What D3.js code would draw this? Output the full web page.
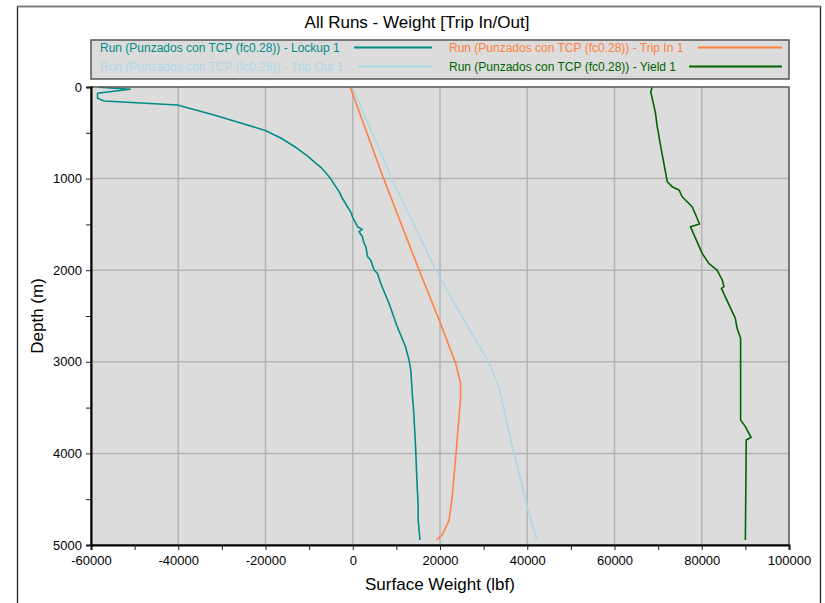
<!DOCTYPE html>
<html>
<head>
<meta charset="utf-8">
<script src="https://cdn.jsdelivr.net/npm/d3@7"></script>
<style>
  html, body { margin: 0; padding: 0; background: #fff; }
  svg { display: block; font-family: "Liberation Sans", Arial, sans-serif; }
</style>
</head>
<body>
<div id="chart"></div>
<script>
// ---- data ----
const seriesNames = [
  "Run (Punzados con TCP (fc0.28)) - Lockup 1",
  "Run (Punzados con TCP (fc0.28)) - Trip In 1",
  "Run (Punzados con TCP (fc0.28)) - Trip Out 1",
  "Run (Punzados con TCP (fc0.28)) - Yield 1",
];
const seriesColors = ["#008b8b", "#ff8040", "#add8e6", "#006400"];

// weight (lbf) vs depth (m)
const lockupDepth = [3, 25, 69, 123, 153, 197, 306, 392, 477, 560, 652, 753, 815, 877, 979, 1088, 1143, 1215, 1307, 1380, 1415, 1452, 1525, 1554, 1580, 1634, 1707, 1743, 1852, 1889, 1998, 2034, 2143, 2361, 2617, 2835, 2980, 3089, 3381, 3562, 3927, 4290, 4582, 4727, 4945];
const lockupWeight = [-58100, -51000, -58500, -58500, -57000, -40200, -31800, -25700, -19900, -16400, -13300, -10400, -8900, -7300, -5400, -3900, -3100, -2400, -1200, -300, -100, 300, 1100, 2200, 1450, 2200, 2600, 3000, 3400, 4100, 4900, 5650, 6400, 8300, 10200, 12100, 12900, 13300, 13700, 14000, 14400, 14700, 15000, 15000, 15400];

const tripInDepth = [0, 1015, 1998, 2544, 3017, 3235, 3417, 3927, 4473, 4727, 4891, 4945];
const tripInWeight = [-600, 7200, 15200, 19800, 23600, 24700, 24700, 23800, 22800, 22100, 20500, 19200];

const tripOutDepth = [0, 1015, 2034, 2799, 2980, 3272, 3927, 4582, 4945];
const tripOutWeight = [-100, 9100, 19400, 28600, 30900, 33500, 36600, 40000, 42200];

const yieldDepth = [3, 51, 287, 433, 652, 1034, 1088, 1124, 1198, 1307, 1496, 1525, 1816, 1925, 1998, 2107, 2180, 2198, 2525, 2634, 2743, 3635, 3708, 3824, 3854, 4945];
const yieldWeight = [68650, 68300, 69400, 69800, 70600, 72100, 73200, 74800, 75500, 77800, 79500, 77400, 80100, 81600, 83500, 84700, 85100, 84500, 87700, 88100, 88900, 88900, 90000, 91300, 90200, 90000];

const xTicks = [-60000, -40000, -20000, 0, 20000, 40000, 60000, 80000, 100000];
const yTicks = [0, 1000, 2000, 3000, 4000, 5000];

const title = "All Runs - Weight [Trip In/Out]";
const xLabel = "Surface Weight (lbf)";
const yLabel = "Depth (m)";

// ---- layout ----
const width = 825, height = 603;
const plot = { left: 91, top: 87, right: 789, bottom: 545 };

const svg = d3.select("#chart").append("svg")
  .attr("width", width)
  .attr("height", height);

// outer frame
svg.append("rect")
  .attr("x", 17.5).attr("y", 6.5)
  .attr("width", 803).attr("height", 610)
  .attr("fill", "none")
  .attr("stroke", "#222")
  .attr("stroke-width", 1.3);
svg.append("line")
  .attr("x1", 17).attr("x2", 821).attr("y1", 6.5).attr("y2", 6.5)
  .attr("stroke", "#777").attr("stroke-width", 1.5);

// title
svg.append("text")
  .attr("x", 417).attr("y", 28)
  .attr("text-anchor", "middle")
  .attr("font-size", 17)
  .text(title);

const x = d3.scaleLinear().domain([-60000, 100000]).range([plot.left, plot.right]);
const y = d3.scaleLinear().domain([0, 5000]).range([plot.top, plot.bottom]);

// plot background
svg.append("rect")
  .attr("x", plot.left).attr("y", plot.top)
  .attr("width", plot.right - plot.left).attr("height", plot.bottom - plot.top)
  .attr("fill", "#dcdcdc");

// grid
const grid = svg.append("g").attr("stroke", "#b4b4b4").attr("stroke-width", 1.5);
grid.selectAll(".gx").data(xTicks.slice(1, -1)).join("line")
  .attr("x1", (d) => x(d)).attr("x2", (d) => x(d))
  .attr("y1", plot.top).attr("y2", plot.bottom);
grid.selectAll(".gy").data(yTicks.slice(1, -1)).join("line")
  .attr("x1", plot.left).attr("x2", plot.right)
  .attr("y1", (d) => y(d)).attr("y2", (d) => y(d));

// series
const series = [
  { depth: lockupDepth, weight: lockupWeight },
  { depth: tripInDepth, weight: tripInWeight },
  { depth: tripOutDepth, weight: tripOutWeight },
  { depth: yieldDepth, weight: yieldWeight },
];
const line = d3.line().x((d) => x(d[0])).y((d) => y(d[1]));
svg.append("g").attr("fill", "none").attr("stroke-width", 1.6)
  .attr("stroke-linejoin", "round")
  .selectAll("path")
  .data(series)
  .join("path")
  .attr("stroke", (d, i) => seriesColors[i])
  .attr("d", (s) => line(s.weight.map((w, i) => [w, s.depth[i]])));

// plot border
svg.append("rect")
  .attr("x", plot.left).attr("y", plot.top)
  .attr("width", plot.right - plot.left).attr("height", plot.bottom - plot.top)
  .attr("fill", "none")
  .attr("stroke", "#555")
  .attr("stroke-width", 1.5);

// axes
const xAxis = d3.axisBottom(x)
  .tickValues(d3.range(-60000, 100001, 10000))
  .tickSize(5)
  .tickFormat((d) => (xTicks.includes(d) ? String(d) : ""));
const gx = svg.append("g")
  .attr("transform", `translate(0,${plot.bottom})`)
  .call(xAxis);
gx.select(".domain").attr("stroke", "#000").attr("stroke-width", 2);
gx.selectAll(".tick line").attr("stroke", "#222");
gx.selectAll(".tick text")
  .attr("font-size", 13).attr("font-family", "Liberation Sans, Arial, sans-serif")
  .attr("fill", "#000").attr("dy", "0.9em");

const yAxis = d3.axisLeft(y)
  .tickValues(d3.range(0, 5001, 500))
  .tickSize(5)
  .tickFormat((d) => (yTicks.includes(d) ? String(d) : ""));
const gy = svg.append("g")
  .attr("transform", `translate(${plot.left},0)`)
  .call(yAxis);
gy.select(".domain").attr("stroke", "#000").attr("stroke-width", 2);
gy.selectAll(".tick line").attr("stroke", "#222");
gy.selectAll(".tick text")
  .attr("font-size", 13).attr("font-family", "Liberation Sans, Arial, sans-serif")
  .attr("fill", "#000").attr("x", -9);

// axis titles
svg.append("text")
  .attr("x", (plot.left + plot.right) / 2).attr("y", 590)
  .attr("text-anchor", "middle")
  .attr("font-size", 17)
  .text(xLabel);
svg.append("text")
  .attr("transform", `translate(43,${(plot.top + plot.bottom) / 2}) rotate(-90)`)
  .attr("text-anchor", "middle")
  .attr("font-size", 17)
  .text(yLabel);

// legend
const legend = svg.append("g");
legend.append("rect")
  .attr("x", 91).attr("y", 40)
  .attr("width", 698).attr("height", 39)
  .attr("fill", "#dcdcdc")
  .attr("stroke", "#555")
  .attr("stroke-width", 1.5);
const legendPos = [
  { tx: 100, ly: 47.5, l1: 354, l2: 432 },
  { tx: 449, ly: 47.5, l1: 698, l2: 782 },
  { tx: 100, ly: 66.5, l1: 358, l2: 432 },
  { tx: 449, ly: 66.5, l1: 689, l2: 782 },
];
const item = legend.selectAll("g").data(seriesNames).join("g");
item.append("text")
  .attr("x", (d, i) => legendPos[i].tx)
  .attr("y", (d, i) => legendPos[i].ly)
  .attr("dy", "0.35em")
  .attr("font-size", 12)
  .attr("fill", (d, i) => seriesColors[i])
  .text((d) => d);
item.append("line")
  .attr("x1", (d, i) => legendPos[i].l1)
  .attr("x2", (d, i) => legendPos[i].l2)
  .attr("y1", (d, i) => legendPos[i].ly)
  .attr("y2", (d, i) => legendPos[i].ly)
  .attr("stroke", (d, i) => seriesColors[i])
  .attr("stroke-width", 2);
</script>
</body>
</html>
